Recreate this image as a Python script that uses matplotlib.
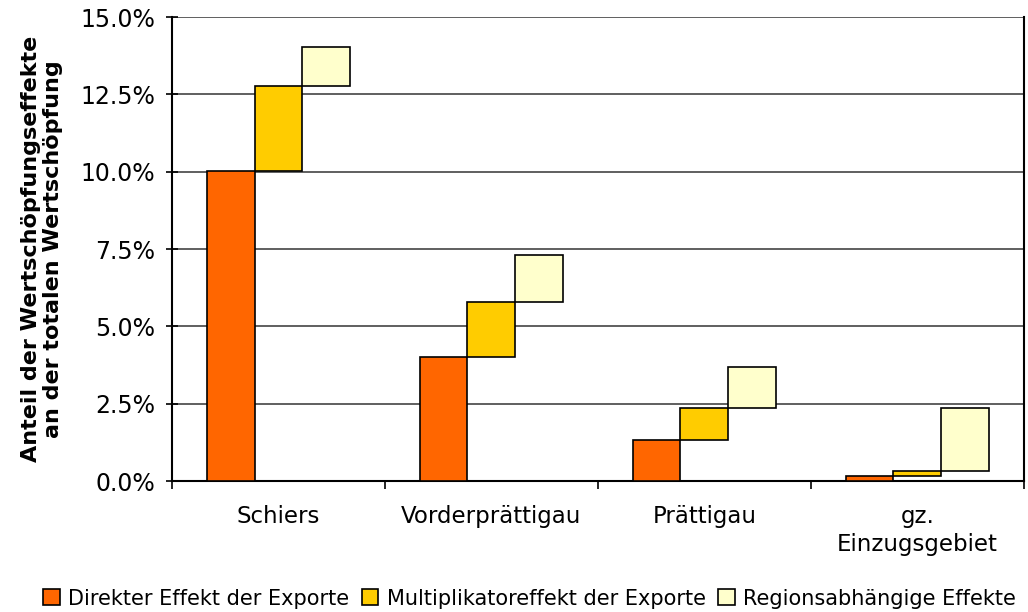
import matplotlib.pyplot as plt
import numpy as np

categories = ["Schiers", "Vorderprättigau", "Prättigau", "gz.\nEinzugsgebiet"]
direkt = [10.02, 4.01, 1.32, 0.16]
multiplikator = [2.75, 1.78, 1.04, 0.17]
region = [1.26, 1.52, 1.33, 2.04]

series_names = ["Direkter Effekt der Exporte",
                "Multiplikatoreffekt der Exporte",
                "Regionsabhängige Effekte"]
colors = ["#FF6600", "#FFCC00", "#FFFFCC"]
yticks = [0, 2.5, 5, 7.5, 10, 12.5, 15]

fig = plt.figure(figsize=(10.28, 6.12), dpi=100)
ax = fig.add_axes([0.1673, 0.214, 0.8287, 0.758])

x = np.arange(len(categories))
w = 0.225
d = np.array(direkt)
m = np.array(multiplikator)
r = np.array(region)

ax.bar(x - w, d, w, color=colors[0], edgecolor="black", linewidth=1.2,
       label=series_names[0], zorder=3)
ax.bar(x, m, w, bottom=d, color=colors[1], edgecolor="black", linewidth=1.2,
       label=series_names[1], zorder=3)
ax.bar(x + w, r, w, bottom=d + m, color=colors[2], edgecolor="black", linewidth=1.2,
       label=series_names[2], zorder=3)

ax.set_xlim(-0.5, len(categories) - 0.5)
ax.set_ylim(0, 15)
ax.set_yticks(yticks)
ax.set_yticklabels(["%.1f%%" % v for v in yticks], fontsize=17)
ax.yaxis.grid(True, color="#444444", linewidth=1.2, zorder=0)
ax.set_axisbelow(True)

ax.set_xticks(np.arange(len(categories) + 1) - 0.5, minor=False)
ax.set_xticklabels([])
ax.set_xticks(x, minor=True)
ax.set_xticklabels(categories, minor=True, fontsize=16.5, linespacing=1.3)
ax.tick_params(axis="x", which="minor", length=0, pad=17)
ax.tick_params(axis="x", which="major", direction="out", length=6, width=1.2)
ax.tick_params(axis="y", direction="inout", length=8, width=1.2, pad=8)

ax.spines["top"].set_visible(False)
for s in ["left", "bottom", "right"]:
    ax.spines[s].set_linewidth(1.5)

ax.set_ylabel("Anteil der Wertschöpfungseffekte\nan der totalen Wertschöpfung",
              fontsize=16, fontweight="bold", linespacing=1.1)
ax.yaxis.set_label_coords(-0.128, 0.5)

fig.legend(loc="lower center", bbox_to_anchor=(0.515, -0.025), ncol=3,
           frameon=False, fontsize=15, handlelength=0.8, handleheight=0.8,
           handletextpad=0.4, columnspacing=0.6)

fig.savefig("out.png", dpi=100)
